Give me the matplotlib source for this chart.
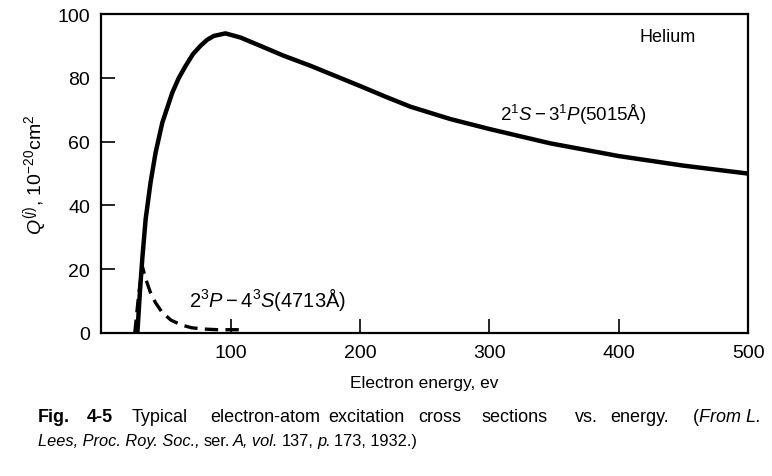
#!/usr/bin/env python3
"""Electron-atom excitation cross sections of helium vs. energy (Lees 1932)."""

import matplotlib
matplotlib.use("Agg")
import matplotlib.pyplot as plt

# 2'S - 3'P (5015 A), solid curve
energy_5015 = [28, 30, 31.8, 34.4, 38.2, 42.1, 47.3, 55, 60, 65.3, 71, 76.8,
               82, 87.1, 96.1, 107.7, 123, 141, 162, 200, 220, 239, 270, 300,
               347, 400, 450, 500]
q_5015 = [0, 13, 23.2, 35.7, 47.2, 56.6, 66, 75.4, 80, 83.8, 87.5, 90.1,
          92, 93.2, 94.0, 92.7, 90.1, 87, 83.8, 77.5, 74.1, 71, 67.1, 64,
          59.5, 55.5, 52.5, 50]

# 2^3P - 4^3S (4713 A), dashed curve
energy_4713 = [26, 29, 31.8, 34, 38, 42, 47, 54, 62, 70, 80, 90, 100, 110]
q_4713 = [0, 12, 21, 17.5, 12.8, 9.5, 6.5, 4, 2.5, 1.6, 1.2, 1, 1, 1]

x_ticks = [100, 200, 300, 400, 500]
y_ticks = [0, 20, 40, 60, 80, 100]

# caption line 1: words and their left edges (pixels)
caption_1 = [("Fig.", 38, "bold", "normal"), ("4-5", 87, "bold", "normal"),
             ("Typical", 132, "normal", "normal"),
             ("electron-atom", 210, "normal", "normal"),
             ("excitation", 328, "normal", "normal"),
             ("cross", 418, "normal", "normal"),
             ("sections", 482, "normal", "normal"),
             ("vs.", 575, "normal", "normal"),
             ("energy.", 610, "normal", "normal"),
             ("(", 693, "normal", "normal"),
             ("From L.", 699, "normal", "italic")]
# caption line 2: pieces set one after another
caption_2 = [("Lees, Proc. Roy. Soc.,", "italic"), ("ser.", "normal"),
             ("A, vol.", "italic"), ("137,", "normal"), ("p.", "italic"),
             ("173, 1932.)", "normal")]

W, H = 772, 477

plt.rcParams["font.family"] = ["Liberation Sans", "DejaVu Sans"]
plt.rcParams["mathtext.fontset"] = "custom"
plt.rcParams["mathtext.rm"] = "Liberation Sans"
plt.rcParams["mathtext.it"] = "Liberation Sans:italic"

fig = plt.figure(figsize=(W / 100, H / 100), dpi=100)
ax = fig.add_axes([0.131, 0.300, 0.838, 0.668])

ax.plot(energy_5015, q_5015, color="black", lw=3.2,
        solid_capstyle="round", solid_joinstyle="round")
ax.plot(energy_4713, q_4713, color="black", lw=2.4, dashes=(4, 2.2))

ax.set_xlim(0, 500)
ax.set_ylim(0, 100)
ax.set_xticks(x_ticks)
ax.set_yticks(y_ticks)
ax.tick_params(direction="in", length=10, width=1.2, labelsize=14, pad=8)
for sp in ax.spines.values():
    sp.set_linewidth(1.6)

ax.set_ylabel(r"$\mathit{Q}^{(j)}$, 10$^{-20}$cm$^2$", fontsize=14, labelpad=6)
ax.set_xlabel("Electron energy, ev", fontsize=12.5, labelpad=10)

ax.text(438, 93, "Helium", fontsize=13, ha="center", va="center")
ax.text(365, 68.7, r"$2^1\mathit{S}-3^1\mathit{P}$(5015Å)", fontsize=13.5,
        ha="center", va="center")
ax.text(129, 10.7, r"$2^3\mathit{P}-4^3\mathit{S}$(4713Å)", fontsize=14.5,
        ha="center", va="center")

for word, x, weight, style in caption_1:
    fig.text(x / W, 1 - 422 / H, word, fontsize=13, fontweight=weight,
             style=style, va="baseline")

# second caption line: measure each piece and put the next one after it
renderer = fig.canvas.get_renderer()
x = 38
for piece, style in caption_2:
    t = fig.text(x / W, 1 - 446 / H, piece, fontsize=11.8, style=style,
                 va="baseline")
    x = t.get_window_extent(renderer).x1 + 3.5

fig.savefig("out.png", dpi=100)
